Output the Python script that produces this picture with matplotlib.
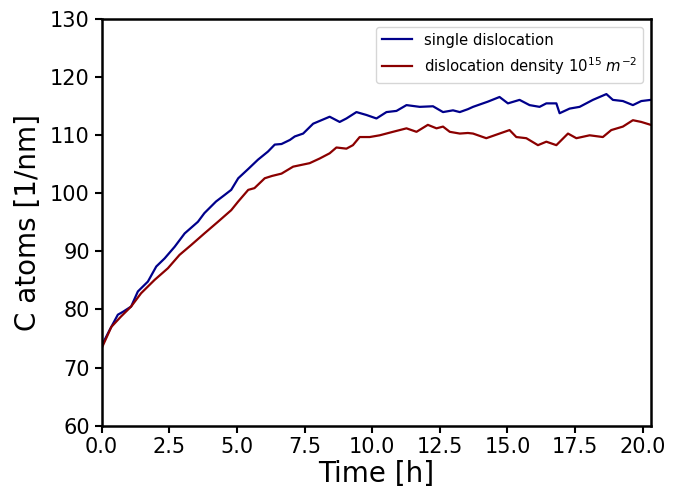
import numpy as np
import matplotlib
matplotlib.use("Agg")
import matplotlib.pyplot as plt

# valori: tempo [h] e atomi di C [1/nm]
t_single = [0.0, 0.05, 0.3, 0.6, 0.79, 1.09, 1.34, 1.71, 2.02, 2.33, 2.70, 3.07,
            3.56, 3.80, 4.23, 4.54, 4.79, 5.05, 5.42, 5.78, 6.15, 6.40, 6.65, 6.96,
            7.14, 7.45, 7.82, 8.43, 8.80, 9.05, 9.42, 9.79, 10.16, 10.53, 10.9,
            11.27, 11.76, 12.25, 12.62, 12.99, 13.24, 13.54, 13.73, 14.28, 14.71,
            15.02, 15.45, 15.82, 16.19, 16.44, 16.81, 16.93, 17.30, 17.67, 18.16,
            18.66, 18.90, 19.27, 19.64, 19.95, 20.3]
c_single = [73.5, 74.2, 76.5, 79.1, 79.6, 80.5, 83.1, 84.8, 87.4, 88.8, 90.8, 93.1,
            95.1, 96.6, 98.6, 99.7, 100.6, 102.6, 104.2, 105.8, 107.2, 108.4, 108.5,
            109.2, 109.8, 110.3, 112.0, 113.2, 112.3, 112.9, 114.0, 113.5, 112.9,
            114.0, 114.2, 115.2, 114.9, 115.0, 114.0, 114.3, 114.0, 114.5, 114.9,
            115.8, 116.6, 115.5, 116.1, 115.2, 114.9, 115.5, 115.5, 113.8, 114.6,
            114.9, 116.1, 117.1, 116.1, 115.9, 115.2, 115.9, 116.1]

t_density = [0.0, 0.36, 0.72, 1.09, 1.46, 1.96, 2.45, 2.88, 3.31, 3.80, 4.30, 4.79,
             5.05, 5.42, 5.65, 6.03, 6.30, 6.65, 7.08, 7.69, 8.06, 8.43, 8.68, 9.05,
             9.29, 9.54, 9.91, 10.28, 10.77, 11.27, 11.64, 12.06, 12.38, 12.62,
             12.87, 13.24, 13.54, 13.73, 14.22, 14.71, 15.08, 15.33, 15.70, 16.13,
             16.44, 16.81, 17.24, 17.55, 18.04, 18.53, 18.84, 19.27, 19.64, 19.95,
             20.3]
c_density = [73.3, 77.0, 78.8, 80.5, 82.8, 85.1, 87.1, 89.4, 91.1, 93.1, 95.1, 97.1,
             98.6, 100.6, 100.9, 102.6, 103.0, 103.4, 104.6, 105.2, 106.0, 106.9,
             107.9, 107.7, 108.3, 109.7, 109.7, 110.0, 110.6, 111.2, 110.6, 111.8,
             111.2, 111.5, 110.6, 110.3, 110.4, 110.3, 109.5, 110.3, 110.9, 109.7,
             109.5, 108.3, 108.9, 108.3, 110.3, 109.5, 110.0, 109.7, 110.9, 111.5,
             112.6, 112.3, 111.8]

fig = plt.figure(figsize=(6.96, 4.92), dpi=100)
ax = fig.add_axes([0.146, 0.135, 0.789, 0.826])

ax.plot(t_single, c_single, color="darkblue", linewidth=1.6, label="single dislocation")
ax.plot(t_density, c_density, color="darkred", linewidth=1.6,
        label=r"dislocation density $10^{15}$ $m^{-2}$")

ax.set_xlim(0, 20.3)
ax.set_ylim(60, 130)
ax.set_xticks(np.arange(0, 20.1, 2.5))
ax.set_yticks(np.arange(60, 131, 10))
ax.tick_params(labelsize=15, width=1.5, length=5)
for s in ax.spines.values():
    s.set_linewidth(1.8)

ax.set_xlabel("Time [h]", fontsize=20, labelpad=2)
ax.set_ylabel("C atoms [1/nm]", fontsize=20, labelpad=6)
ax.legend(loc="upper right", fontsize=10.7)

fig.savefig("out.png", dpi=100)
